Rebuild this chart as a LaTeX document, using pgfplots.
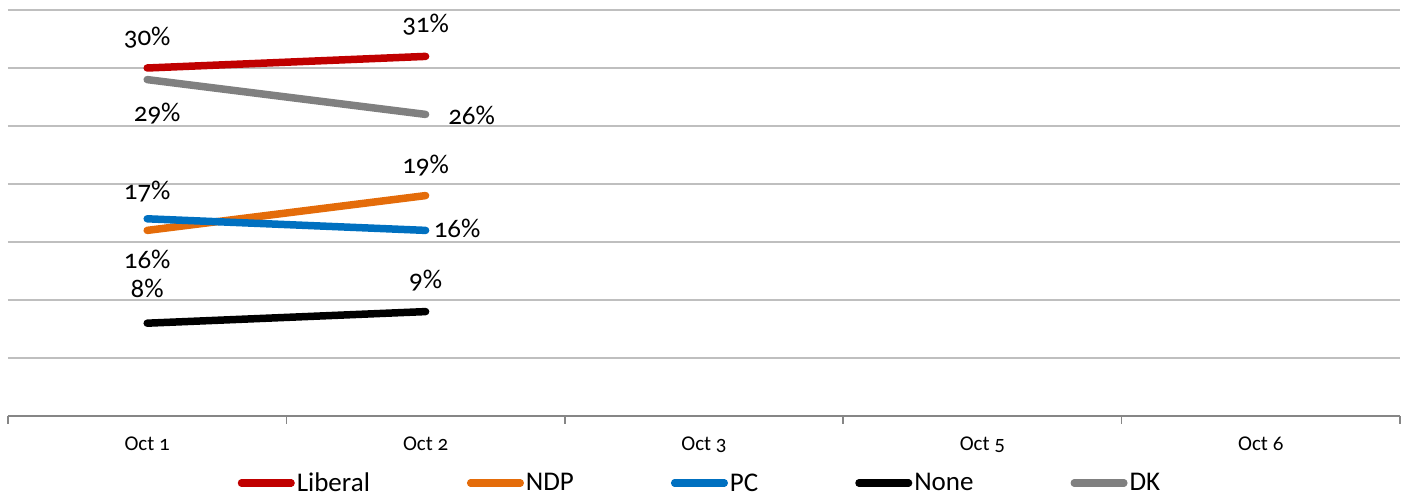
\documentclass[border=0pt]{standalone}
\usepackage{fontspec}
\setmainfont{Carlito}[Numbers=OldStyle]
\usepackage{pgfplots}
\usepackage{pgfplotstable}
\pgfplotsset{compat=1.18}

\definecolor{lib}{RGB}{192,0,0}
\definecolor{ndp}{RGB}{228,108,10}
\definecolor{pc}{RGB}{0,112,192}
\definecolor{dk}{RGB}{128,128,128}
\definecolor{gridgray}{RGB}{191,191,191}
\definecolor{axisgray}{RGB}{134,134,134}

% x: 0=Oct 1, 1=Oct 2; dx/dy: label offset in pt
\pgfplotstableread{
x y dx dy
0 30 0 30.5
1 31 0 32
}\liberal
\pgfplotstableread{
x y dx dy
0 16 0 -29
1 19 0 30
}\ndp
\pgfplotstableread{
x y dx dy
0 17 0 27
1 16 31.5 2
}\pc
\pgfplotstableread{
x y dx dy
0 8 0 35
1 9 0 31
}\none
\pgfplotstableread{
x y dx dy
0 29 10 -34
1 26 46 -1
}\dk

\begin{document}
\begin{tikzpicture}
\begin{axis}[
    scale only axis,
    width=1392pt, height=406pt,
    xmin=-0.5, xmax=4.5,
    ymin=0, ymax=35,
    clip=false,
    axis x line*=bottom,
    axis y line*=left,
    x axis line style={draw=axisgray, line width=1.5pt},
    y axis line style={draw=none},
    ytick={0,5,...,35},
    yticklabels={},
    major y tick style={draw=none},
    ymajorgrids,
    grid style={draw=gridgray, line width=1.5pt},
    xtick={0,...,4},
    xticklabels={Oct 1, Oct 2, Oct 3, Oct 5, Oct 6},
    major x tick style={draw=none},
    minor xtick={-0.5,0.5,...,4.5},
    minor tick length=8pt,
    minor x tick style={draw=axisgray, line width=1.5pt},
    tick align=outside,
    xticklabel style={font=\fontsize{21}{24}\selectfont, yshift=-13pt},
    /pgf/number format/assume math mode=true,
    point meta=y,
    nodes near coords={\pgfmathprintnumber{\pgfplotspointmeta}\%},
    visualization depends on={\thisrow{dx}\as\ldx},
    visualization depends on={\thisrow{dy}\as\ldy},
    every node near coord/.append style={font=\fontsize{27}{30}\selectfont,
        text=black, anchor=center, xshift=\ldx pt, yshift=\ldy pt},
    legend columns=-1,
    legend style={at={(0.5,0)}, anchor=center, yshift=-67pt, xshift=-4pt,
        draw=none, fill=none, font=\fontsize{27}{30}\selectfont,
        /tikz/every even column/.append style={column sep=95pt}},
    legend image code/.code={\draw[#1, line width=7pt, line cap=round] (0pt,0pt) -- (50pt,0pt);},
    every axis plot/.append style={line width=7.5pt, line cap=round, mark=none},
]
\addplot[lib] table[x=x, y=y] {\liberal};
\addplot[ndp] table[x=x, y=y] {\ndp};
\addplot[pc] table[x=x, y=y] {\pc};
\addplot[black] table[x=x, y=y] {\none};
\addplot[dk] table[x=x, y=y] {\dk};
\legend{Liberal, NDP, PC, None, DK}
\end{axis}
\pgfresetboundingbox
\path ([shift={(-8pt,-80pt)}]current axis.south west) rectangle ([shift={(9pt,10pt)}]current axis.north east);
\end{tikzpicture}
\end{document}
